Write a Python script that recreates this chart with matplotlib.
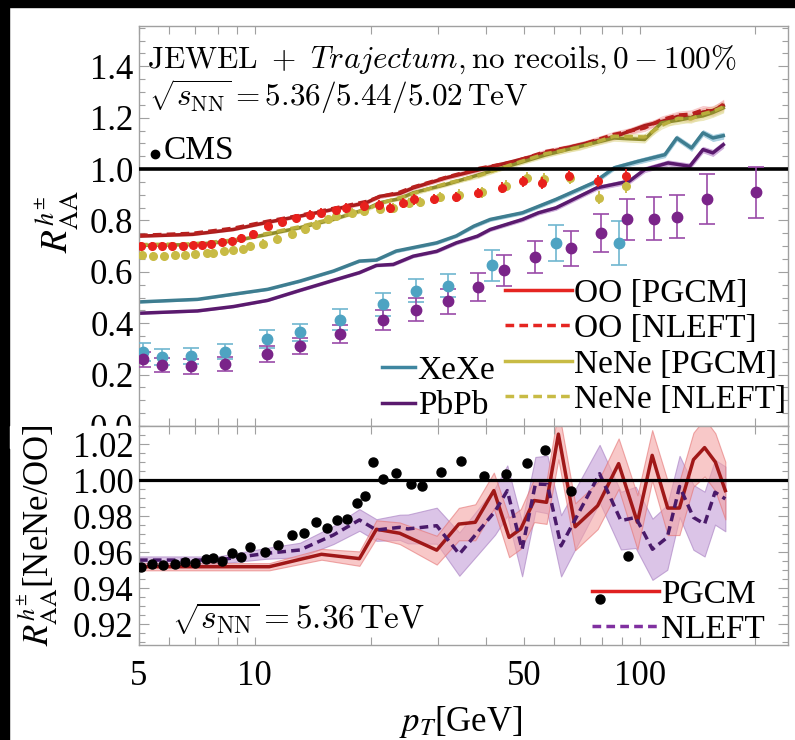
import numpy as np
import matplotlib.pyplot as plt
from matplotlib.lines import Line2D
from matplotlib.patches import Rectangle
from matplotlib.ticker import FixedLocator, NullLocator, FixedFormatter

plt.rcParams.update({
    'font.family': 'serif',
    'font.serif': ['Liberation Serif', 'DejaVu Serif'],
    'mathtext.fontset': 'stix',
})

# ---- CMS R_AA data (top panel) ----
oo_pt = [5.05, 5.4, 5.75, 6.1, 6.5, 6.9, 7.3, 7.7, 8.2, 8.7, 9.2, 9.9, 10.8, 11.8, 12.8, 13.9, 14.9,
         16.3, 17.3, 19.2, 21.0, 22.4, 24.2, 26.0, 29.2, 33.3, 38.0, 43.8, 49.8, 55.9, 65.6, 77.9, 92.3]
oo_val = [0.70, 0.70, 0.70, 0.70, 0.70, 0.703, 0.705, 0.71, 0.715, 0.72, 0.73, 0.746, 0.778, 0.795, 0.81,
          0.823, 0.83, 0.84, 0.849, 0.856, 0.86, 0.848, 0.869, 0.882, 0.884, 0.892, 0.907, 0.927, 0.953,
          0.946, 0.975, 0.953, 0.975]
oo_err = [0.015, 0.015, 0.015, 0.015, 0.015, 0.015, 0.015, 0.015, 0.015, 0.015, 0.016, 0.016, 0.016,
          0.017, 0.017, 0.017, 0.018, 0.018, 0.018, 0.018, 0.019, 0.019, 0.019, 0.020, 0.020, 0.020,
          0.021, 0.021, 0.022, 0.022, 0.023, 0.024, 0.025]

ne_pt = [5.1, 5.45, 5.8, 6.2, 6.6, 7.0, 7.5, 7.8, 8.3, 8.8, 9.3, 9.7, 10.5, 11.4, 12.5, 13.5, 14.4,
         15.5, 16.3, 17.9, 19.2, 21.1, 22.9, 25.1, 26.9, 30.3, 34.0, 39.0, 44.9, 50.9, 56.6, 66.0, 78.5, 92.3]
ne_val = [0.665, 0.663, 0.663, 0.666, 0.666, 0.668, 0.672, 0.675, 0.68, 0.685, 0.69, 0.70, 0.71, 0.729,
          0.746, 0.765, 0.784, 0.804, 0.817, 0.83, 0.835, 0.843, 0.85, 0.869, 0.873, 0.89, 0.901, 0.91,
          0.936, 0.966, 0.963, 0.966, 0.888, 0.933]
ne_err = [0.015, 0.015, 0.015, 0.015, 0.015, 0.015, 0.015, 0.015, 0.015, 0.015, 0.016, 0.016, 0.016,
          0.017, 0.017, 0.017, 0.018, 0.018, 0.018, 0.018, 0.019, 0.019, 0.019, 0.020, 0.020, 0.020,
          0.021, 0.021, 0.022, 0.022, 0.023, 0.024, 0.025, 0.025]

xe_pt = [5.13, 5.75, 6.81, 8.39, 10.75, 13.1, 16.6, 21.5, 26.2, 31.7, 41.4, 60.6, 88.2]
xe_val = [0.290, 0.269, 0.272, 0.290, 0.338, 0.364, 0.414, 0.474, 0.527, 0.546, 0.626, 0.713, 0.713]
xe_err = [0.035, 0.030, 0.030, 0.030, 0.035, 0.035, 0.040, 0.045, 0.045, 0.045, 0.060, 0.070, 0.085]

pb_pt = [5.13, 5.75, 6.81, 8.39, 10.75, 13.1, 16.6, 21.5, 26.2, 31.7, 38.0, 44.4, 53.6, 66.4,
         79.4, 92.7, 108.9, 125.4, 149.5, 201.0]
pb_val = [0.260, 0.237, 0.232, 0.241, 0.280, 0.312, 0.360, 0.412, 0.452, 0.485, 0.540, 0.606, 0.658,
          0.691, 0.752, 0.804, 0.807, 0.814, 0.884, 0.910]
pb_err = [0.030, 0.028, 0.028, 0.028, 0.030, 0.032, 0.035, 0.040, 0.045, 0.050, 0.055, 0.060, 0.064,
          0.068, 0.075, 0.080, 0.083, 0.084, 0.097, 0.100]

# ---- JEWEL + Trajectum curves (top panel) ----
th_pt = [5.0, 6.9, 8.8, 10.8, 13.1, 16.0, 19.5, 21.1, 23.8, 25.8, 31.4, 38.4, 46.9, 57.0, 69.9,
         85.8, 103.0, 114.0, 125.9, 136.0, 146.0, 155.0, 165.0]
oo_pg = [0.739, 0.746, 0.765, 0.793, 0.817, 0.843, 0.869, 0.894, 0.905, 0.927, 0.966, 0.998, 1.030,
         1.063, 1.095, 1.125, 1.169, 1.185, 1.205, 1.200, 1.222, 1.228, 1.247]
oo_nl = [0.742, 0.750, 0.770, 0.797, 0.820, 0.847, 0.874, 0.892, 0.910, 0.930, 0.968, 1.003, 1.027,
         1.068, 1.093, 1.135, 1.160, 1.192, 1.210, 1.214, 1.230, 1.224, 1.252]
ne_pg = [0.703, 0.706, 0.720, 0.746, 0.772, 0.804, 0.845, 0.869, 0.885, 0.908, 0.940, 0.979, 1.017,
         1.055, 1.088, 1.121, 1.115, 1.180, 1.190, 1.200, 1.207, 1.220, 1.238]
ne_nl = [0.706, 0.709, 0.724, 0.750, 0.776, 0.808, 0.842, 0.866, 0.889, 0.905, 0.944, 0.975, 1.020,
         1.060, 1.085, 1.128, 1.125, 1.170, 1.198, 1.195, 1.215, 1.225, 1.242]
th_band = [0.004, 0.004, 0.004, 0.005, 0.005, 0.005, 0.006, 0.006, 0.006, 0.007, 0.007, 0.008, 0.008,
           0.009, 0.010, 0.011, 0.012, 0.013, 0.014, 0.015, 0.016, 0.017, 0.018]

xe_th_pt = [5.0, 7.1, 8.8, 10.8, 13.1, 16.0, 18.7, 20.7, 23.3, 29.7, 33.4, 37.1, 40.9, 49.6, 60.6,
            75.9, 85.9, 99.0, 116.3, 124.9, 136.4, 146.1, 155.0, 165.0]
xe_th = [0.483, 0.493, 0.513, 0.532, 0.564, 0.603, 0.642, 0.646, 0.681, 0.713, 0.740, 0.778, 0.804,
         0.830, 0.882, 0.947, 1.005, 1.030, 1.056, 1.121, 1.082, 1.141, 1.121, 1.130]
xe_band = [0.003, 0.003, 0.003, 0.003, 0.004, 0.004, 0.004, 0.004, 0.005, 0.005, 0.005, 0.006, 0.006,
           0.006, 0.007, 0.008, 0.008, 0.009, 0.010, 0.010, 0.011, 0.011, 0.012, 0.012]

pb_th_pt = [5.0, 7.1, 8.8, 10.8, 13.1, 16.0, 18.7, 20.7, 22.9, 25.8, 29.7, 33.4, 37.9, 40.9, 49.6,
            54.6, 60.6, 77.4, 94.0, 103.1, 118.5, 135.0, 146.1, 155.0, 165.0]
pb_th = [0.439, 0.448, 0.465, 0.489, 0.528, 0.567, 0.597, 0.625, 0.629, 0.661, 0.680, 0.713, 0.739,
         0.765, 0.804, 0.830, 0.849, 0.927, 0.953, 0.998, 1.024, 1.011, 1.076, 1.063, 1.095]
pb_band = [0.003, 0.003, 0.003, 0.003, 0.004, 0.004, 0.004, 0.004, 0.005, 0.005, 0.005, 0.006, 0.006,
           0.006, 0.007, 0.007, 0.008, 0.008, 0.009, 0.010, 0.010, 0.011, 0.011, 0.012, 0.012]

# ---- ratio NeNe/OO (bottom panel) ----
r_pt = [5.06, 5.4, 5.78, 6.2, 6.6, 6.99, 7.47, 7.8, 8.24, 8.74, 9.22, 9.7, 10.6, 11.5, 12.5, 13.4,
        14.4, 15.4, 16.4, 17.4, 18.4, 19.3, 20.3, 21.5, 23.3, 25.4, 27.2, 30.4, 34.3, 39.3, 44.9,
        51.0, 56.8, 66.5, 78.7, 93.3]
r_val = [0.952, 0.9533, 0.953, 0.9535, 0.9548, 0.9539, 0.9561, 0.9567, 0.9552, 0.9598, 0.9576,
         0.9631, 0.960, 0.9641, 0.9696, 0.9709, 0.977, 0.9733, 0.9779, 0.9783, 0.9876, 0.9913, 1.010,
         1.0006, 1.004, 0.9977, 0.9966, 1.0046, 1.0107, 1.0022, 1.0033, 1.0098, 1.0171, 0.9943,
         0.9338, 0.958]

pg_pt = [5.0, 10.9, 14.9, 18.7, 20.7, 23.8, 29.7, 33.9, 37.4, 41.8, 45.8, 49.1, 53.2, 57.3, 61.5,
         68.0, 77.8, 88.2, 98.7, 107.8, 118.3, 126.9, 138.0, 147.5, 157.3, 167.0]
pg_val = [0.952, 0.952, 0.9589, 0.9565, 0.9728, 0.9706, 0.9612, 0.9757, 0.9767, 0.9943, 0.9683,
          0.973, 0.9888, 0.9878, 1.0257, 0.9742, 0.9859, 1.0093, 0.9767, 1.0139, 0.9846, 0.9846,
          1.0115, 1.0182, 1.0102, 0.9943]
pg_band = [0.002, 0.002, 0.003, 0.004, 0.005, 0.006, 0.008, 0.009, 0.010, 0.010, 0.011, 0.011, 0.012,
           0.012, 0.014, 0.013, 0.013, 0.014, 0.015, 0.014, 0.015, 0.015, 0.015, 0.016, 0.016, 0.016]

nl_pt = [5.0, 8.0, 10.7, 13.1, 16.0, 18.7, 20.7, 23.8, 25.0, 29.7, 34.0, 42.1, 45.3, 49.5, 53.6,
         57.6, 62.5, 78.7, 89.4, 97.7, 108.0, 118.0, 127.0, 138.0, 147.5, 157.0, 167.0]
nl_val = [0.9557, 0.9557, 0.9594, 0.9613, 0.9696, 0.978, 0.9724, 0.9739, 0.973, 0.9748, 0.959,
          0.9828, 0.9943, 0.9617, 0.998, 0.9977, 0.9636, 1.0037, 0.9776, 0.9794, 0.9617, 0.9683,
          0.9966, 0.9794, 0.9757, 0.9934, 0.9897]
nl_band = [0.002, 0.002, 0.003, 0.004, 0.005, 0.006, 0.006, 0.007, 0.008, 0.010, 0.012, 0.013, 0.014,
           0.015, 0.015, 0.016, 0.017, 0.016, 0.016, 0.017, 0.017, 0.018, 0.017, 0.018, 0.018, 0.018, 0.018]

x_ticks = [5, 6, 7, 8, 9, 10, 20, 30, 40, 50, 60, 70, 80, 90, 100, 200]
x_ticklabels = ['5', '', '', '', '', '10', '', '', '', '50', '', '', '', '', '100', '']

FRAME = '#a0a0a0'

fig = plt.figure(figsize=(7.95, 7.40), dpi=100)
ax1 = fig.add_axes([0.1748, 0.4243, 0.8164, 0.5406])
ax2 = fig.add_axes([0.1748, 0.1284, 0.8164, 0.2959])
ax2.set_zorder(2)

# black strips of the screenshot edge
fig.patches.append(Rectangle((0, 1 - 7 / 740), 1, 7 / 740, transform=fig.transFigure,
                             color='black', zorder=-10))
fig.patches.append(Rectangle((0, 0), 9 / 795, 1, transform=fig.transFigure,
                             color='black', zorder=-10))


def style_axes(ax, labels):
    ax.set_xscale('log')
    ax.set_xlim(5, 243)
    ax.xaxis.set_major_locator(FixedLocator(x_ticks))
    ax.xaxis.set_minor_locator(NullLocator())
    ax.xaxis.set_major_formatter(FixedFormatter(labels))
    for s in ax.spines.values():
        s.set_color(FRAME)
        s.set_linewidth(1.0)
    ax.tick_params(which='both', direction='in', top=True, right=True, color=FRAME, width=0.8)
    ax.tick_params(which='major', length=7)
    ax.tick_params(which='minor', length=4)
    ax.tick_params(axis='y', which='major', labelsize=25, pad=4)
    ax.tick_params(axis='x', which='major', length=6, labelsize=25, pad=11)


def band(ax, x, y, e, color, alpha):
    y = np.array(y)
    e = np.array(e)
    ax.fill_between(x, y - e, y + e, color=color, alpha=alpha, lw=0.6)


# ---------------- top panel ----------------
style_axes(ax1, [''] * len(x_ticks))
ax1.set_ylim(0.0, 1.557)
ax1.yaxis.set_major_locator(FixedLocator([0.0, 0.2, 0.4, 0.6, 0.8, 1.0, 1.2, 1.4]))
ax1.yaxis.set_minor_locator(FixedLocator(np.arange(0, 1.56, 0.05)))
ax1.yaxis.set_major_formatter(FixedFormatter(['0.0', '0.2', '0.4', '0.6', '0.8', '1.0', '1.2', '1.4']))

band(ax1, xe_th_pt, xe_th, xe_band, '#9cc9dc', 0.8)
band(ax1, pb_th_pt, pb_th, pb_band, '#c7a0d6', 0.8)
band(ax1, th_pt, oo_pg, th_band, '#f2a3a3', 0.55)
band(ax1, th_pt, oo_nl, th_band, '#f2a3a3', 0.45)
band(ax1, th_pt, ne_pg, th_band, '#e3dc98', 0.55)
band(ax1, th_pt, ne_nl, th_band, '#e3dc98', 0.45)

ax1.plot(xe_th_pt, xe_th, color='#3e7d90', lw=2.5)
ax1.plot(pb_th_pt, pb_th, color='#5a1a6e', lw=2.5)
ax1.plot(th_pt, oo_pg, color='#a81c1c', lw=2.5)
ax1.plot(th_pt, oo_nl, color='#b8201e', lw=2.5, ls=(0, (2.5, 1.5)))
ax1.plot(th_pt, ne_pg, color='#8f8c2c', lw=2.5)
ax1.plot(th_pt, ne_nl, color='#b9ae3c', lw=2.5, ls=(0, (2.5, 1.5)))

ax1.axhline(1.0, color='black', lw=2.6, zorder=2.6)

ax1.errorbar(xe_pt, xe_val, yerr=xe_err, fmt='o', ms=7.5, color='#4ea3c2', ecolor='#6fb6d0',
             elinewidth=1.2, capsize=6, capthick=1.2, zorder=3)
ax1.errorbar(pb_pt, pb_val, yerr=pb_err, fmt='o', ms=7.5, color='#7a2489', ecolor='#9a4aa8',
             elinewidth=1.2, capsize=6, capthick=1.2, zorder=3)
ax1.errorbar(ne_pt, ne_val, yerr=ne_err, fmt='o', ms=5.5, color='#c8bb45', elinewidth=1.3,
             capsize=0, zorder=3.1)
ax1.errorbar(oo_pt, oo_val, yerr=oo_err, fmt='o', ms=5.5, color='#e8201c', elinewidth=1.3,
             capsize=0, zorder=3.2)

ax1.text(0.012, 0.895, r'$\mathrm{JEWEL}\ +\ \mathit{Trajectum}, \mathrm{no\ recoils}, 0-100\%$',
         transform=ax1.transAxes, fontsize=22.5, math_fontfamily='cm', va='baseline')
ax1.text(0.016, 0.80, r'$\sqrt{s_{\rm NN}} = 5.36/5.44/5.02\,\mathrm{TeV}$',
         transform=ax1.transAxes, fontsize=22.5, math_fontfamily='cm', va='baseline')
ax1.plot([0.0247], [0.68], 'o', color='black', ms=6, transform=ax1.transAxes, clip_on=False)
ax1.text(0.038, 0.6675, 'CMS', transform=ax1.transAxes, fontsize=24, va='baseline')

h_main = [Line2D([], [], color='#e52521', lw=2.5),
          Line2D([], [], color='#e52521', lw=2.5, ls=(0, (2.5, 1.5))),
          Line2D([], [], color='#c8bb45', lw=2.5),
          Line2D([], [], color='#c8bb45', lw=2.5, ls=(0, (2.5, 1.5)))]
leg1 = ax1.legend(h_main, ['OO [PGCM]', 'OO [NLEFT]', 'NeNe [PGCM]', 'NeNe [NLEFT]'],
                  loc='upper left', bbox_to_anchor=(0.564, 0.37), frameon=False, fontsize=24,
                  handlelength=2.0, handletextpad=0.08, labelspacing=0.15, borderpad=0,
                  borderaxespad=0)
ax1.add_artist(leg1)
h_sys = [Line2D([], [], color='#3e86a0', lw=2.5), Line2D([], [], color='#5a1a6e', lw=2.5)]
ax1.legend(h_sys, ['XeXe', 'PbPb'], loc='upper left', bbox_to_anchor=(0.374, 0.177),
           frameon=False, fontsize=24, handlelength=1.0, handletextpad=0.08, labelspacing=0.15,
           borderpad=0, borderaxespad=0)

# ---------------- bottom panel ----------------
style_axes(ax2, x_ticklabels)
ax2.set_ylim(0.9085, 1.0302)
ax2.yaxis.set_major_locator(FixedLocator([0.92, 0.94, 0.96, 0.98, 1.00, 1.02]))
ax2.yaxis.set_minor_locator(FixedLocator(np.arange(0.91, 1.031, 0.005)))
ax2.yaxis.set_major_formatter(FixedFormatter(['0.92', '0.94', '0.96', '0.98', '1.00', '1.02']))

# cover the lower half of the "0.0" label of the top panel
ax2.add_patch(Rectangle((10 / 795, 0.4243 - 0.03), 0.1748 - 10 / 795 - 0.001, 0.03,
                        transform=fig.transFigure, color='white', clip_on=False, zorder=0))

pgv = np.array(pg_val)
pge = np.array(pg_band)
nlv = np.array(nl_val)
nle = np.array(nl_band)
ax2.fill_between(nl_pt, nlv - nle, nlv + nle, facecolor='#cfb0df', edgecolor='#b38fca',
                 alpha=0.75, lw=0.8)
ax2.fill_between(pg_pt, pgv - pge, pgv + pge, facecolor='#f4a4a4', edgecolor='#e57373',
                 alpha=0.6, lw=0.8)
ax2.plot(pg_pt, pg_val, color='#a01818', lw=2.5)
ax2.plot(nl_pt, nl_val, color='#4a1a6a', lw=2.5, ls=(0, (2.5, 1.5)))
ax2.axhline(1.0, color='black', lw=2.3, zorder=2.6)
ax2.plot(r_pt, r_val, 'o', color='black', ms=6.5, zorder=3)

ax2.text(0.051, 0.078, r'$\sqrt{s_{\rm NN}} = 5.36\,\mathrm{TeV}$', transform=ax2.transAxes,
         fontsize=24, math_fontfamily='cm', va='baseline')
h_rat = [Line2D([], [], color='#e02020', lw=2.5),
         Line2D([], [], color='#8030a0', lw=2.5, ls=(0, (2.5, 1.5)))]
ax2.legend(h_rat, ['PGCM', 'NLEFT'], loc='upper left', bbox_to_anchor=(0.698, 0.301),
           frameon=False, fontsize=24, handlelength=2.0, handletextpad=0.08, labelspacing=0.15,
           borderpad=0, borderaxespad=0)

# axis labels
fig.text(57 / 795, 1 - 222 / 740, r'$R^{h^{\pm}}_{\mathrm{AA}}$', rotation=90, fontsize=27,
         ha='center', va='center')
fig.text(38 / 795, 1 - 535 / 740, r'$R^{h^{\pm}}_{\mathrm{AA}}$[NeNe/OO]', rotation=90, fontsize=25,
         ha='center', va='center')
fig.text(461 / 795, 1 - 722 / 740, r'$p_T$[GeV]', fontsize=25, ha='center', va='center')

fig.savefig('out.png', dpi=100)
